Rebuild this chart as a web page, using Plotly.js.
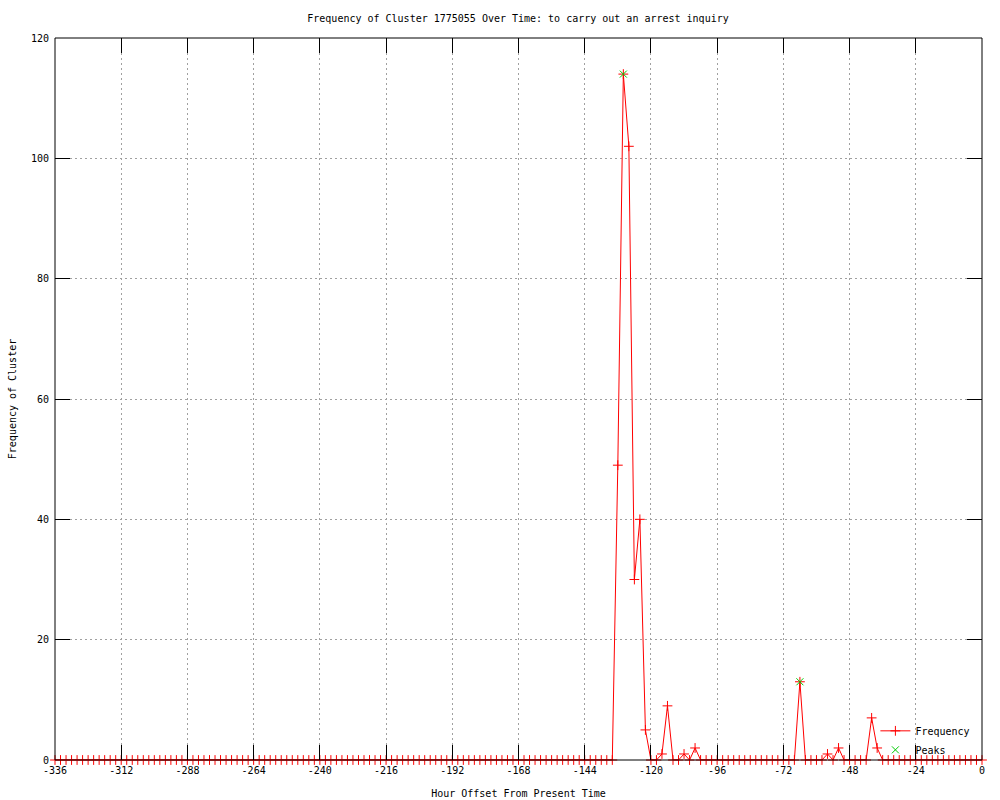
<!DOCTYPE html>
<html>
<head>
<meta charset="utf-8">
<script src="https://cdn.plot.ly/plotly-3.0.1.min.js"></script>
<style>html,body{margin:0;padding:0;background:#fff;}#chart{width:1000px;height:800px;}</style>
</head>
<body>
<div id="chart"></div>
<script>
// Hour offsets (every 2 hours, -336 .. 0)
const hours = [
 -336,-334,-332,-330,-328,-326,-324,-322,-320,-318,-316,-314,-312,-310,-308,-306,-304,-302,-300,-298,
 -296,-294,-292,-290,-288,-286,-284,-282,-280,-278,-276,-274,-272,-270,-268,-266,-264,-262,-260,-258,
 -256,-254,-252,-250,-248,-246,-244,-242,-240,-238,-236,-234,-232,-230,-228,-226,-224,-222,-220,-218,
 -216,-214,-212,-210,-208,-206,-204,-202,-200,-198,-196,-194,-192,-190,-188,-186,-184,-182,-180,-178,
 -176,-174,-172,-170,-168,-166,-164,-162,-160,-158,-156,-154,-152,-150,-148,-146,-144,-142,-140,-138,
 -136,-134,-132,-130,-128,-126,-124,-122,-120,-118,-116,-114,-112,-110,-108,-106,-104,-102,-100,-98,
 -96,-94,-92,-90,-88,-86,-84,-82,-80,-78,-76,-74,-72,-70,-68,-66,-64,-62,-60,-58,
 -56,-54,-52,-50,-48,-46,-44,-42,-40,-38,-36,-34,-32,-30,-28,-26,-24,-22,-20,-18,
 -16,-14,-12,-10,-8,-6,-4,-2,0
];
const frequency = [
 0,0,0,0,0,0,0,0,0,0,0,0,0,0,0,0,0,0,0,0,
 0,0,0,0,0,0,0,0,0,0,0,0,0,0,0,0,0,0,0,0,
 0,0,0,0,0,0,0,0,0,0,0,0,0,0,0,0,0,0,0,0,
 0,0,0,0,0,0,0,0,0,0,0,0,0,0,0,0,0,0,0,0,
 0,0,0,0,0,0,0,0,0,0,0,0,0,0,0,0,0,0,0,0,
 0,0,49,114,102,30,40,5,0,0,1,9,0,0,1,0,2,0,0,0,
 0,0,0,0,0,0,0,0,0,0,0,0,0,0,0,13,0,0,0,0,
 1,0,2,0,0,0,0,0,7,2,0,0,0,0,0,0,0,0,0,0,
 0,0,0,0,0,0,0,0,0
];
const peakHours = [-130, -66];
const peakValues = [114, 13];
const xTicks = [-336,-312,-288,-264,-240,-216,-192,-168,-144,-120,-96,-72,-48,-24,0];
const yTicks = [0,20,40,60,80,100,120];

const FONT = {family: '"DejaVu Sans Mono", "Liberation Mono", monospace', size: 10, color: '#000'};

const traces = [
  {
    x: hours, y: frequency, name: 'Frequency', type: 'scatter', mode: 'lines+markers',
    line: {color: '#ff0000', width: 1},
    marker: {symbol: 'cross-thin-open', size: 7, color: '#ff0000', line: {color: '#ff0000', width: 1}},
    cliponaxis: false
  },
  {
    x: peakHours, y: peakValues, name: 'Peaks', type: 'scatter', mode: 'markers',
    marker: {symbol: 'x-thin-open', size: 7, color: '#00cc00', line: {color: '#00cc00', width: 1}},
    cliponaxis: false
  }
];

const axisCommon = {
  showline: false, mirror: 'allticks',
  ticks: 'inside', ticklen: 15, tickcolor: '#000', tickwidth: 1,
  showgrid: true, gridcolor: '#a0a0a0', griddash: '2px,3px', gridwidth: 1,
  zeroline: false, tickfont: FONT
};

const layout = {
  width: 1000, height: 800,
  paper_bgcolor: '#fff', plot_bgcolor: '#fff',
  margin: {l: 55, r: 18, t: 38, b: 40},
  font: FONT,
  title: {text: 'Frequency of Cluster 1775055 Over Time: to carry out an arrest inquiry',
          font: FONT, x: 0.518, xanchor: 'center', y: 0.977, yanchor: 'middle'},
  xaxis: Object.assign({}, axisCommon, {
    range: [-336, 0], tickmode: 'array', tickvals: xTicks,
    ticktext: xTicks.map(v => v === 0 ? '0' : '-' + Math.abs(v)),
    ticklabelstandoff: 3,
    title: {text: 'Hour Offset From Present Time', font: FONT, standoff: 14}
  }),
  yaxis: Object.assign({}, axisCommon, {
    range: [0, 120], tickmode: 'array', tickvals: yTicks,
    ticklabelstandoff: 5,
    title: {text: 'Frequency of Cluster', font: FONT, standoff: 12}
  }),
  shapes: [
    {type: 'rect', xref: 'paper', yref: 'paper', x0: 0, x1: 1, y0: 0, y1: 1,
     line: {color: '#000', width: 1}, fillcolor: 'rgba(0,0,0,0)', layer: 'above'}
  ],
  showlegend: true,
  legend: {
    x: 0.885, y: -0.006, xanchor: 'left', yanchor: 'bottom',
    bgcolor: 'rgba(0,0,0,0)', borderwidth: 0, font: FONT,
    tracegroupgap: 0, itemwidth: 30
  }
};

Plotly.newPlot('chart', traces, layout, {displayModeBar: false, staticPlot: true});
</script>
</body>
</html>
